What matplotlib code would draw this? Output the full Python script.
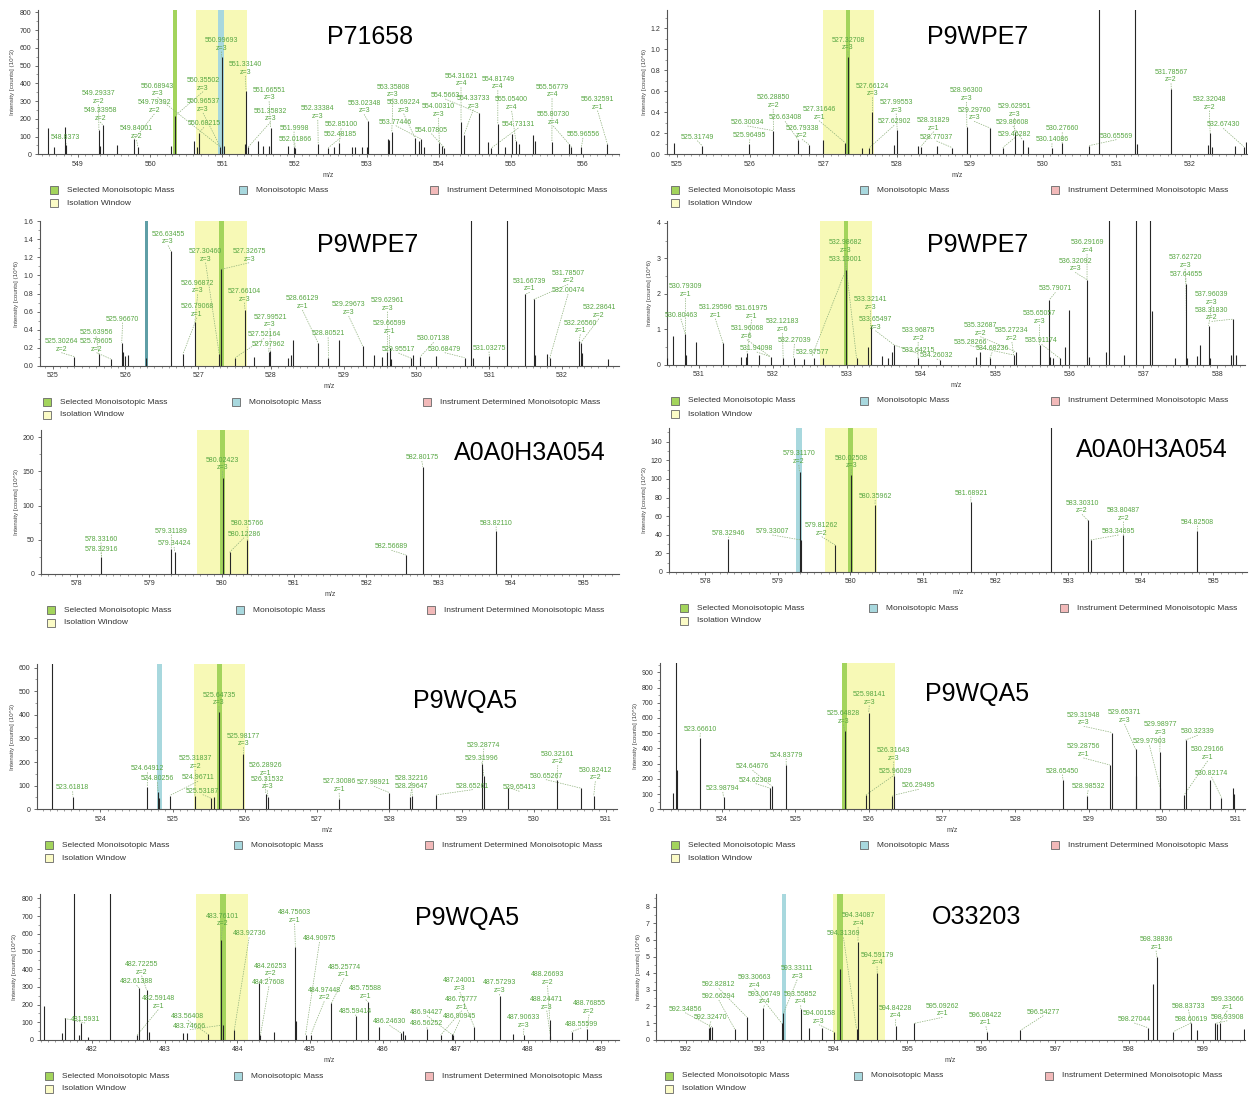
import matplotlib
matplotlib.use("Agg")
import matplotlib.pyplot as plt
from matplotlib.patches import Rectangle
from matplotlib.ticker import MultipleLocator, AutoMinorLocator, FormatStrFormatter

plt.rcParams['font.family'] = ['Liberation Sans', 'DejaVu Sans']

W, H = 1249, 1095

# ---------------- Panel 1 : P71658 ----------------
P1_title = "P71658"
P1_mz = [548.58, 548.67, 548.82, 548.84, 549.29, 549.31, 549.34, 549.54, 549.78, 549.83, 550.29, 550.35,
         550.61, 550.65, 550.68, 550.975, 550.99, 551.02, 551.31, 551.33, 551.36, 551.50, 551.57, 551.65,
         551.67, 551.91, 551.995, 552.01, 552.33, 552.47, 552.55, 552.62, 552.80, 552.84, 552.94, 553.00,
         553.02, 553.30, 553.31, 553.35, 553.67, 553.73, 553.76, 553.80, 554.01, 554.05, 554.08, 554.31,
         554.35, 554.56, 554.68, 554.73, 554.82, 554.92, 555.01, 555.07, 555.12, 555.31, 555.33, 555.57,
         555.80, 555.84, 555.98, 556.34]
P1_int = [148, 41, 152, 52, 137, 49, 167, 50, 85, 43, 47, 218,
          75, 41, 122, 41, 546, 49, 58, 359, 41, 73, 49, 49,
          150, 49, 43, 35, 60, 37, 43, 62, 43, 43, 43, 43,
          188, 86, 80, 124, 94, 75, 85, 41, 62, 49, 37, 184,
          109, 231, 71, 35, 171, 41, 115, 75, 56, 109, 75, 68,
          58, 43, 43, 58]
P1_lab_txt = ["548.8373", "549.29337\nz=2", "549.33958\nz=2", "549.84001\nz=2", "549.79392\nz=2",
              "550.68943\nz=3", "550.35502\nz=3", "550.96537\nz=3", "550.68215", "550.99693\nz=3",
              "551.33140\nz=3", "551.66551\nz=3", "551.35832\nz=3", "551.9998", "552.01866",
              "552.33384\nz=3", "552.85100", "552.48185", "553.02348\nz=3", "553.35808\nz=3",
              "553.69224\nz=3", "553.77446", "554.07805", "554.00310\nz=3", "554.5663",
              "554.33733\nz=3", "554.31621\nz=4", "554.81749\nz=4", "555.05400\nz=4", "554.73131",
              "555.56779\nz=4", "555.80730\nz=4", "555.96556", "556.32591\nz=1"]
P1_lab_xy = [(165, 422), (249, 314), (253, 366), (345, 420), (390, 342),
             (398, 292), (513, 275), (513, 339), (515, 382), (560, 155),
             (620, 228), (680, 304), (683, 367), (743, 395), (745, 429),
             (803, 360), (862, 385), (860, 414), (920, 343), (993, 295),
             (1020, 341), (1000, 377), (1090, 401), (1108, 354), (1125, 297),
             (1196, 329), (1165, 262), (1258, 271), (1293, 333), (1310, 384),
             (1395, 295), (1398, 378), (1473, 414), (1510, 332)]
P1_lab_peak = [548.84, 549.29, 549.34, 549.83, 549.78, 550.975, 550.35, 550.975, 550.68, 550.99,
               551.33, 551.67, 551.36, 551.995, 552.01, 552.33, 552.62, 552.47, 553.02, 553.35,
               553.67, 553.76, 554.08, 554.01, 554.56, 554.35, 554.31, 554.82, 555.07, 554.73,
               555.57, 555.84, 555.98, 556.34]
P1_sel, P1_mono, P1_iso = (550.317, 550.377), (550.947, 551.024), (550.635, 551.348)

# ---------------- Panel 2 : P9WPE7 ----------------
P2_title = "P9WPE7"
P2_mz = [524.97, 525.35, 525.99, 526.32, 526.66, 526.81, 526.99, 527.30, 527.34, 527.53, 527.63, 527.67,
         527.97, 528.01, 528.29, 528.33, 528.55, 528.76, 528.96, 529.28, 529.45, 529.61, 529.72, 529.79,
         530.12, 530.26, 530.63, 530.76, 531.25, 531.28, 531.75, 532.25, 532.28, 532.30, 532.62, 532.74,
         532.77]
P2_int = [0.105, 0.08, 0.10, 0.225, 0.137, 0.09, 0.137, 0.11, 0.93, 0.063, 0.063, 0.40,
          0.09, 0.23, 0.083, 0.073, 0.083, 0.063, 0.26, 0.25, 0.063, 0.216, 0.137, 0.073,
          0.063, 0.105, 0.083, 2.0, 2.2, 0.10, 0.62, 0.09, 0.2, 0.073, 0.08, 0.073,
          0.12]
P2_lab_txt = ["525.31749", "526.28850\nz=2", "526.30034", "525.96495", "526.63408", "526.79338\nz=2",
              "527.31646\nz=1", "527.32708\nz=3", "527.66124\nz=3", "527.99553\nz=3", "527.62902",
              "528.31829\nz=1", "528.77037", "528.96300\nz=3", "529.29760\nz=3", "529.62951\nz=3",
              "529.80608", "529.46282", "530.27660", "530.14086", "530.65569", "531.78567\nz=2",
              "532.32048\nz=2", "532.67430"]
P2_lab_xy = [(170, 422), (362, 327), (297, 378), (303, 418), (392, 364), (435, 418),
             (478, 362), (551, 154), (613, 292), (673, 341), (668, 376),
             (768, 395), (775, 423), (851, 306), (870, 364), (972, 354),
             (968, 378), (973, 413), (1093, 397), (1067, 430), (1230, 419), (1368, 250),
             (1465, 332), (1500, 385)]
P2_lab_peak = [525.35, 526.32, 526.32, 525.99, 526.66, 526.81, 527.30, 527.34, 527.67, 528.01, 527.63,
               528.33, 528.76, 528.96, 529.28, 529.61, 529.72, 529.45, 530.26, 530.12, 530.63, 531.75,
               532.28, 532.74]
P2_sel, P2_mono, P2_iso = (527.304, 527.369), None, (526.99, 527.69)

# ---------------- Panel 3 : P9WPE7 ----------------
P3_title = "P9WPE7"
P3_mz = [525.30, 525.636, 525.80, 525.95, 525.97, 526.00, 526.03, 526.29, 526.624, 526.79, 526.955, 527.29,
         527.314, 527.51, 527.645, 527.77, 527.97, 527.99, 528.24, 528.27, 528.31, 528.65, 528.79, 528.94,
         529.26, 529.41, 529.53, 529.60, 529.63, 529.655, 529.93, 529.95, 530.05, 530.27, 530.66, 530.752,
         530.77, 531.00, 531.247, 531.49, 531.61, 531.625, 531.79, 531.83, 532.235, 532.257, 532.268, 532.626]
P3_int = [0.103, 0.129, 0.077, 0.257, 0.158, 0.11, 0.12, 0.09, 1.27, 0.129, 0.49, 0.129,
          1.066, 0.092, 0.617, 0.103, 0.158, 0.165, 0.092, 0.12, 0.287, 0.25, 0.092, 0.287,
          0.22, 0.12, 0.103, 0.158, 0.20, 0.077, 0.085, 0.12, 0.103, 0.11, 0.092, 3.0,
          0.09, 0.11, 3.0, 0.79, 0.735, 0.12, 0.129, 0.085, 0.28, 0.257, 0.14, 0.077]
P3_lab_txt = ["526.63455\nz=3", "527.30460\nz=3", "527.32675\nz=3", "526.96872\nz=3", "526.79068\nz=1",
              "527.66104\nz=3", "527.99521\nz=3", "527.52164", "527.97962", "528.66129\nz=1",
              "528.80521", "529.29673\nz=3", "529.62961\nz=3", "529.66599\nz=1", "529.95517",
              "530.07138", "530.68479", "531.03275", "525.30264\nz=2", "525.63956",
              "525.79605\nz=2", "525.96670", "531.66739\nz=1", "531.78507\nz=2", "532.00474",
              "532.28641\nz=2", "532.26560\nz=1"]
P3_lab_xy = [(425, 91), (520, 143), (630, 143), (500, 238), (498, 308),
             (618, 263), (683, 340), (668, 370), (680, 399), (765, 285),
             (830, 367), (882, 303), (980, 290), (985, 360), (1008, 414),
             (1097, 382), (1125, 413), (1237, 410), (155, 413), (243, 364),
             (244, 413), (310, 323), (1340, 232), (1437, 208), (1437, 237),
             (1515, 311), (1468, 358)]
P3_lab_peak = [526.624, 527.29, 527.314, 526.955, 526.79, 527.645, 527.99, 527.51, 527.97, 528.65,
               528.79, 529.26, 529.60, 529.63, 529.93, 530.05, 530.66, 531.00, 525.30, 525.636,
               525.80, 525.95, 531.49, 531.61, 531.83, 532.257, 532.235]
P3_sel, P3_mono, P3_iso = (527.281, 527.357), (526.266, 526.314), (526.955, 527.672)

# ---------------- Panel 4 : P9WPE7 ----------------
P4_title = "P9WPE7"
P4_mz = [530.57, 530.65, 530.82, 530.83, 530.97, 531.33, 531.57, 531.635, 531.65, 531.81, 531.97, 532.14,
         532.28, 532.42, 532.55, 532.68, 532.985, 533.13, 533.28, 533.32, 533.47, 533.55, 533.61, 533.64,
         533.96, 534.25, 534.74, 534.80, 534.93, 535.25, 535.28, 535.60, 535.73, 535.745, 535.78, 535.87,
         535.94, 535.99, 536.24, 536.265, 536.50, 536.53, 536.74, 536.90, 537.09, 537.11, 537.43, 537.57,
         537.585, 537.73, 537.77, 537.88, 537.895, 538.18, 538.21, 538.25]
P4_int = [0.19, 0.82, 0.86, 0.28, 0.64, 0.61, 0.23, 0.23, 0.33, 0.28, 0.23, 0.19,
          0.19, 0.17, 0.19, 0.19, 2.67, 0.19, 0.50, 1.1, 0.25, 0.19, 0.36, 0.56,
          0.19, 0.14, 0.23, 0.37, 0.19, 0.28, 0.37, 0.56, 1.83, 0.23, 0.19, 0.19,
          0.50, 1.55, 2.4, 0.23, 0.37, 5.0, 0.28, 5.0, 5.0, 1.53, 0.19, 2.29,
          0.19, 0.25, 0.56, 1.1, 0.19, 0.28, 1.29, 0.28]
P4_lab_txt = ["532.98682\nz=3", "533.13001", "530.79309\nz=1", "530.80463", "531.29596\nz=1",
              "531.61975\nz=1", "531.96068\nz=6", "531.94098", "532.12183\nz=6", "532.27039",
              "532.97577", "533.32141\nz=3", "533.65497\nz=3", "533.96875\nz=2", "533.64215",
              "534.26032", "535.32687\nz=2", "535.28266", "534.68236", "535.27234\nz=2",
              "535.91174", "535.65057\nz=3", "535.79071", "536.29169\nz=4", "536.32092\nz=3",
              "537.62720\nz=3", "537.64655", "537.96039\nz=3", "538.31830\nz=2"]
P4_lab_xy = [(545, 116), (545, 144), (140, 249), (128, 311), (215, 311),
             (307, 314), (295, 374), (320, 411), (385, 354), (415, 387),
             (460, 422), (607, 287), (620, 347), (728, 381), (728, 416),
             (775, 432), (885, 365), (860, 392), (915, 412), (965, 381),
             (1040, 388), (1035, 329), (1075, 232), (1155, 117), (1125, 172),
             (1403, 161), (1405, 189), (1470, 272), (1470, 319)]
P4_lab_peak = [532.985, 533.13, 530.82, 530.82, 531.33, 531.65, 531.97, 531.97, 532.14, 532.28,
               532.985, 533.32, 533.64, 533.96, 533.64, 534.25, 535.28, 535.25, 534.93, 535.25,
               535.87, 535.60, 535.73, 536.24, 536.24, 537.57, 537.585, 537.88, 538.21]
P4_sel, P4_mono, P4_iso = (532.96, 533.01), None, (532.638, 533.343)

# ---------------- Panel 5 : A0A0H3A054 ----------------
P5_title = "A0A0H3A054"
P5_mz = [578.34, 579.305, 579.35, 580.015, 580.11, 580.355, 582.55, 582.78, 583.795]
P5_int = [25, 36.6, 32.7, 141, 31.7, 49.8, 27.8, 157, 63]
P5_lab_txt = ["578.33160", "578.32916", "579.31189", "579.34424", "580.02423\nz=3",
              "580.35766", "580.12286", "582.56689", "582.80175", "583.82110"]
P5_lab_xy = [(255, 353), (255, 383), (433, 329), (440, 366), (563, 139),
             (625, 305), (617, 338), (990, 376), (1067, 108), (1255, 305)]
P5_lab_peak = [578.34, 578.34, 579.305, 579.35, 580.015, 580.355, 580.11, 582.55, 582.78, 583.795]
P5_sel, P5_mono, P5_iso = (579.98, 580.05), None, (579.66, 580.38)

# ---------------- Panel 6 : A0A0H3A054 ----------------
P6_title = "A0A0H3A054"
P6_mz = [578.32, 579.30, 579.32, 579.79, 580.01, 580.34, 581.66, 582.77, 583.27, 583.31, 583.76, 584.78]
P6_int = [35, 107, 34.4, 29, 104, 72, 75, 300, 55.5, 34.4, 40, 44]
P6_lab_txt = ["578.32946", "579.31170\nz=2", "579.33007", "580.02508\nz=3", "579.81262\nz=2",
              "580.35962", "581.68921", "583.30310\nz=2", "583.80487\nz=2", "583.34695", "584.82508"]
P6_lab_xy = [(250, 335), (427, 120), (360, 330), (560, 133), (485, 335),
             (620, 225), (862, 215), (1143, 268), (1248, 290), (1235, 330), (1435, 302)]
P6_lab_peak = [578.32, 579.30, 579.32, 580.01, 579.79, 580.34, 581.66, 583.27, 583.76, 583.31, 584.78]
P6_sel, P6_mono, P6_iso = (579.97, 580.04), (579.25, 579.33), (579.65, 580.37)

# ---------------- Panel 7 : P9WQA5 ----------------
P7_title = "P9WQA5"
P7_mz = [523.33, 523.62, 524.65, 524.80, 524.815, 524.96, 525.31, 525.53, 525.57, 525.64, 525.98, 526.29,
         526.32, 527.31, 528.0, 528.29, 528.32, 528.65, 529.29, 529.31, 529.65, 530.32, 530.66, 530.83]
P7_int = [700, 54, 96, 75, 47, 58, 58, 47, 51, 414, 234, 65,
          54, 44, 71, 51, 55, 61, 192, 141, 92, 123, 89, 56]
P7_lab_txt = ["523.61818", "524.64912", "524.80256", "525.31837\nz=2", "524.96711", "525.53187",
              "525.64735\nz=3", "525.98177\nz=3", "526.28926\nz=1", "526.31532\nz=3", "527.30086\nz=1",
              "527.98921", "528.32216", "528.29647", "528.65261", "529.28774", "529.31996",
              "529.65413", "530.32161\nz=2", "530.65267", "530.82412\nz=2"]
P7_lab_xy = [(183, 409), (372, 352), (397, 382), (493, 345), (500, 379), (512, 419),
             (553, 154), (615, 277), (670, 366), (675, 406), (857, 414),
             (945, 394), (1040, 381), (1040, 404), (1195, 404), (1223, 281), (1218, 322),
             (1313, 409), (1410, 331), (1380, 374), (1505, 379)]
P7_lab_peak = [523.62, 524.65, 524.80, 525.31, 524.96, 525.53, 525.64, 525.98, 526.29, 526.32, 527.31,
               528.0, 528.32, 528.29, 528.65, 529.29, 529.31, 529.65, 530.32, 530.66, 530.83]
P7_sel, P7_mono, P7_iso = (525.61, 525.68), (524.79, 524.86), (525.29, 526.0)

# ---------------- Panel 8 : P9WQA5 ----------------
P8_title = "P9WQA5"
P8_mz = [523.33, 523.37, 523.38, 523.70, 524.02, 524.66, 524.675, 524.875, 525.67, 525.96, 526.0, 526.32,
         526.34, 528.65, 528.98, 529.29, 529.32, 529.64, 529.65, 529.97, 529.975, 530.30, 530.32, 530.65,
         530.81, 530.97, 530.98]
P8_int = [105, 970, 260, 471, 79, 138, 153, 291, 515, 94, 635, 90,
          219, 193, 90, 291, 504, 394, 219, 379, 138, 94, 455, 193,
          77, 138, 99]
P8_lab_txt = ["523.66610", "523.98794", "524.64676", "524.62368", "524.83779", "525.64828\nz=3",
              "525.98141\nz=3", "526.31643\nz=3", "525.96029", "526.29495", "528.65450", "528.98532",
              "529.31948\nz=3", "529.28756\nz=1", "529.65371\nz=3", "529.98977\nz=3", "529.97903",
              "530.32339", "530.29166\nz=1", "530.82174"]
P8_lab_xy = [(178, 234), (235, 411), (310, 346), (318, 386), (395, 311), (540, 209),
             (605, 152), (667, 320), (670, 359), (730, 403), (1093, 359), (1158, 406),
             (1147, 214), (1146, 309), (1250, 207), (1340, 243), (1313, 271),
             (1435, 241), (1460, 318), (1470, 366)]
P8_lab_peak = [523.70, 524.02, 524.675, 524.66, 524.875, 525.67, 526.0, 526.34, 525.96, 526.32,
               528.65, 528.98, 529.32, 529.29, 529.64, 529.97, 529.975, 530.32, 530.30, 530.81]
P8_sel, P8_mono, P8_iso = (525.64, 525.71), None, (525.64, 526.36)

# ---------------- Panel 9 : P9WQA5 ----------------
P9_title = "P9WQA5"
P9_mz = [481.34, 481.59, 481.625, 481.76, 481.82, 481.85, 481.95, 482.25, 482.625, 482.65, 482.755, 482.79,
         483.25, 483.315, 483.60, 483.78, 483.81, 483.96, 484.32, 484.305, 484.50, 484.80, 484.81, 484.94,
         485.01, 485.295, 485.63, 485.80, 485.95, 486.26, 486.285, 486.31, 486.61, 486.80, 486.95, 486.97,
         487.26, 487.61, 487.79, 487.94, 488.30, 488.31, 488.60, 488.81]
P9_int = [194, 38, 122, 900, 28, 94, 19, 900, 28, 295, 282, 47,
          41, 38, 32, 565, 85, 56, 28, 324, 47, 527, 107, 28,
          28, 207, 136, 216, 72, 38, 53, 28, 62, 28, 32, 28,
          75, 248, 32, 28, 113, 23, 47, 60]
P9_lab_txt = ["481.5931", "482.72255\nz=2", "482.61388", "482.59148\nz=1", "483.56408", "483.74666",
              "483.76101\nz=2", "483.92736", "484.26253\nz=2", "484.27608", "484.75603\nz=1", "484.90975",
              "485.25774\nz=1", "484.97448\nz=2", "485.75588\nz=1", "485.59414", "486.24630", "486.94427",
              "486.56252", "487.24001\nz=3", "486.75777\nz=1", "486.90945", "487.57293\nz=3",
              "487.90633\nz=3", "488.26693\nz=2", "488.24471\nz=3", "488.55599", "488.76855\nz=2"]
P9_lab_xy = [(215, 414), (358, 272), (345, 301), (400, 374), (475, 406), (480, 434),
             (562, 127), (630, 157), (683, 277), (680, 304), (745, 116), (808, 171),
             (870, 280), (820, 349), (925, 344), (900, 389), (985, 421), (1080, 392),
             (1080, 427), (1163, 321), (1168, 377), (1163, 406), (1263, 327),
             (1325, 431), (1385, 302), (1383, 377), (1470, 429), (1490, 389)]
P9_lab_peak = [481.625, 482.755, 482.65, 482.625, 483.60, 483.81, 483.78, 483.96, 484.305, 484.32,
               484.80, 484.94, 485.295, 485.01, 485.80, 485.63, 486.26, 486.95, 486.61, 487.26,
               486.80, 486.97, 487.61, 487.94, 488.30, 488.31, 488.60, 488.81]
P9_sel, P9_mono, P9_iso = (483.76, 483.84), None, (483.44, 484.15)

# ---------------- Panel 10 : O33203 ----------------
P10_title = "O33203"
P10_mz = [592.31, 592.33, 592.35, 592.66, 592.82, 593.05, 593.30, 593.32, 593.555, 593.66, 593.84, 594.0,
          594.08, 594.31, 594.33, 594.59, 594.84, 595.09, 596.08, 596.53, 598.26, 598.32, 598.38, 598.60,
          598.84, 598.92, 599.17, 599.19, 599.23, 599.56]
P10_int = [0.68, 0.74, 0.78, 0.64, 1.38, 1.9, 0.98, 1.58, 1.85, 0.68, 0.68, 0.48,
           4.23, 0.64, 5.9, 4.03, 0.84, 0.98, 0.48, 0.56, 0.72, 3.37, 4.95, 0.48,
           0.98, 0.56, 0.98, 0.92, 1.02, 0.62]
P10_lab_txt = ["592.34856", "592.32470", "592.66294", "592.82812", "593.30663\nz=4", "593.06749\nz=4",
               "593.33111\nz=3", "593.55852\nz=4", "594.00158\nz=3", "594.34087\nz=4", "594.31369",
               "594.59179\nz=4", "594.84228\nz=4", "595.09262\nz=1", "596.08422\nz=1", "596.54277",
               "598.38836\nz=1", "598.27044", "598.83733", "598.60619", "599.33666\nz=1", "598.93908"]
P10_lab_xy = [(140, 383), (205, 409), (225, 345), (225, 310), (315, 311), (340, 361),
              (423, 284), (432, 361), (478, 419), (577, 126), (540, 157),
              (625, 244), (672, 403), (790, 397), (900, 424), (1045, 392),
              (1330, 197), (1275, 414), (1412, 374), (1418, 414), (1510, 377), (1510, 407)]
P10_lab_peak = [592.35, 592.31, 592.66, 592.82, 593.30, 593.05, 593.32, 593.555, 594.0, 594.33, 594.31,
                594.59, 594.84, 595.09, 596.08, 596.53, 598.38, 598.26, 598.84, 598.60, 599.23, 599.17]
P10_sel, P10_mono, P10_iso = (594.05, 594.13), (593.30, 593.36), (593.99, 594.70)

# ---------------- layout (pixel boxes, axis ranges, label calibration) ----------------
panels = [
    dict(title=P1_title, mz=P1_mz, it=P1_int, lt=P1_lab_txt, lxy=P1_lab_xy, lk=P1_lab_peak,
         sel=P1_sel, mono=P1_mono, iso=P1_iso, box=(37.6, 10, 619, 154.3), xlim=(548.44, 556.50),
         ylim=(0, 813), ystep=100, yfmt='%d', exp='3', tpos=(370, 37), legx=54,
         cal=(549, 197, 182.3, 463, 1.878), monoc='#a8d8de'),
    dict(title=P2_title, mz=P2_mz, it=P2_int, lt=P2_lab_txt, lxy=P2_lab_xy, lk=P2_lab_peak,
         sel=P2_sel, mono=P2_mono, iso=P2_iso, box=(666.8, 10, 1246.8, 154.3), xlim=(524.865, 532.78),
         ylim=(0, 1.375), ystep=0.2, yfmt='%.1f', exp='6', tpos=(978, 37), legx=675,
         cal=(525, 118, 185.3, 463, 0.003175), monoc='#a8d8de'),
    dict(title=P3_title, mz=P3_mz, it=P3_int, lt=P3_lab_txt, lxy=P3_lab_xy, lk=P3_lab_peak,
         sel=P3_sel, mono=P3_mono, iso=P3_iso, box=(39.5, 221, 618.8, 366), xlim=(524.82, 532.78),
         ylim=(0, 1.6), ystep=0.2, yfmt='%.1f', exp='6', tpos=(368, 245), legx=47,
         cal=(525, 133, 184.1, 453, 0.003675), monoc='#5f9ea6'),
    dict(title=P4_title, mz=P4_mz, it=P4_int, lt=P4_lab_txt, lxy=P4_lab_xy, lk=P4_lab_peak,
         sel=P4_sel, mono=P4_mono, iso=P4_iso, box=(666.8, 221, 1244.9, 365), xlim=(530.57, 538.37),
         ylim=(0, 4.05), ystep=1, yfmt='%d', exp='6', tpos=(978, 245), legx=675,
         cal=(531, 173, 187.4, 450, 0.009368), monoc='#a8d8de'),
    dict(title=P5_title, mz=P5_mz, it=P5_int, lt=P5_lab_txt, lxy=P5_lab_xy, lk=P5_lab_peak,
         sel=P5_sel, mono=P5_mono, iso=P5_iso, box=(40.7, 430, 618.8, 574), xlim=(577.50, 585.49),
         ylim=(0, 210.7), ystep=50, yfmt='%d', exp='3', tpos=(530, 453), legx=51,
         cal=(578, 194, 183.1, 447, 0.4878), monoc='#a8d8de'),
    dict(title=P6_title, mz=P6_mz, it=P6_int, lt=P6_lab_txt, lxy=P6_lab_xy, lk=P6_lab_peak,
         sel=P6_sel, mono=P6_mono, iso=P6_iso, box=(668.8, 427.7, 1246.8, 572), xlim=(577.50, 585.46),
         ylim=(0, 155), ystep=20, yfmt='%d', exp='3', tpos=(1152, 450), legx=684,
         cal=(578, 190, 183.6, 441, 0.358), monoc='#a8d8de'),
    dict(title=P7_title, mz=P7_mz, it=P7_int, lt=P7_lab_txt, lxy=P7_lab_xy, lk=P7_lab_peak,
         sel=P7_sel, mono=P7_mono, iso=P7_iso, box=(36.8, 664.3, 616.8, 809.3), xlim=(523.12, 531.15),
         ylim=(0, 614), ystep=100, yfmt='%d', exp='3', tpos=(465, 701), legx=49,
         cal=(524, 253, 182.7, 463, 1.4118), monoc='#a8d8de'),
    dict(title=P8_title, mz=P8_mz, it=P8_int, lt=P8_lab_txt, lxy=P8_lab_xy, lk=P8_lab_peak,
         sel=P8_sel, mono=P8_mono, iso=P8_iso, box=(659.7, 663.3, 1244.9, 809.3), xlim=(523.15, 531.13),
         ylim=(0, 959), ystep=100, yfmt='%d', exp='3', tpos=(977, 694), legx=675,
         cal=(524, 233, 185.3, 463, 2.19), monoc='#a8d8de'),
    dict(title=P9_title, mz=P9_mz, it=P9_int, lt=P9_lab_txt, lxy=P9_lab_xy, lk=P9_lab_peak,
         sel=P9_sel, mono=P9_mono, iso=P9_iso, box=(39.5, 894.3, 618.8, 1040), xlim=(481.28, 489.25),
         ylim=(0, 822.6), ystep=100, yfmt='%d', exp='3', tpos=(467, 918), legx=49,
         cal=(482, 232, 183.9, 465, 1.882), monoc='#a8d8de'),
    dict(title=P10_title, mz=P10_mz, it=P10_int, lt=P10_lab_txt, lxy=P10_lab_xy, lk=P10_lab_peak,
         sel=P10_sel, mono=P10_mono, iso=P10_iso, box=(655.7, 894.3, 1244.9, 1039.7), xlim=(591.59, 599.57),
         ylim=(0, 8.75), ystep=1, yfmt='%d', exp='6', tpos=(977, 917), legx=669,
         cal=(592, 142, 186.6, 464, 0.02005), monoc='#a8d8de'),
]

GREEN_BAND = '#a3d45c'
YELLOW_BAND = '#f7f9b6'
TXT_GREEN = '#56a641'
LEADER = '#8db07a'
PEAK = '#262626'

fig = plt.figure(figsize=(W / 100, H / 100), dpi=100)
fig.patch.set_facecolor('white')


def fx(x):
    return x / W


def fy(y):
    return 1 - y / H


for p in panels:
    assert len(p['mz']) == len(p['it'])
    assert len(p['lt']) == len(p['lxy']) == len(p['lk'])
    l, t, r, b = p['box']
    ax = fig.add_axes([l / W, 1 - b / H, (r - l) / W, (b - t) / H])
    ax.set_xlim(*p['xlim'])
    ax.set_ylim(*p['ylim'])
    ax.patch.set_alpha(0)

    if p['iso']:
        ax.axvspan(*p['iso'], color=YELLOW_BAND, lw=0, zorder=0)
    if p['mono']:
        ax.axvspan(*p['mono'], color=p['monoc'], lw=0, zorder=1)
    if p['sel']:
        ax.axvspan(*p['sel'], color=GREEN_BAND, lw=0, zorder=1)

    ax.vlines(p['mz'], 0, p['it'], colors=PEAK, lw=0.8, zorder=3)

    m0, x0, ppu, y0, k = p['cal']
    ytop = p['ylim'][1]
    for txt, (px, py), tgt in zip(p['lt'], p['lxy'], p['lk']):
        lx = m0 + (px - x0) / ppu
        ly = (y0 - py) * k
        j = min(range(len(p['mz'])), key=lambda i: abs(p['mz'][i] - tgt))
        pm, pv = p['mz'][j], min(p['it'][j], ytop)
        ax.plot([lx, pm], [ly, pv], ls=(0, (2, 1.5)), lw=0.5, color=LEADER, zorder=2)
        ax.text(lx, ly, txt, ha='center', va='bottom', fontsize=5, color=TXT_GREEN,
                linespacing=1.15, zorder=4)

    for s in ['top', 'right']:
        ax.spines[s].set_visible(False)
    for s in ['left', 'bottom']:
        ax.spines[s].set_color('#555555')
        ax.spines[s].set_linewidth(0.8)
    ax.xaxis.set_major_locator(MultipleLocator(1))
    ax.xaxis.set_minor_locator(MultipleLocator(0.1))
    ax.yaxis.set_major_locator(MultipleLocator(p['ystep']))
    ax.yaxis.set_minor_locator(AutoMinorLocator(2))
    ax.yaxis.set_major_formatter(FormatStrFormatter(p['yfmt']))
    ax.tick_params(which='major', labelsize=5, length=2.5, width=0.6, colors='#555555',
                   labelcolor='#333333', pad=2)
    ax.tick_params(which='minor', length=1.3, width=0.4, colors='#555555')
    ax.set_xlabel('m/z', fontsize=5, color='#444444', labelpad=3)
    ax.set_ylabel('Intensity [counts] (10^%s)' % p['exp'], fontsize=4.5, color='#444444', labelpad=3)

    # protein accession
    fig.text(fx(p['tpos'][0]), fy(p['tpos'][1]), p['title'], ha='center', va='center',
             fontsize=18, color='black')

    # legend
    items = [(0, 36, GREEN_BAND, 'Selected Monoisotopic Mass'),
             (189, 36, '#a8d8de', 'Monoisotopic Mass'),
             (380, 36, '#f2b9b9', 'Instrument Determined Monoisotopic Mass'),
             (0, 49, '#fbfbc6', 'Isolation Window')]
    for dx, dy, col, lab in items:
        cx, cy = p['legx'] + dx, b + dy
        fig.add_artist(Rectangle((fx(cx - 4), fy(cy + 4)), 8 / W, 8 / H, transform=fig.transFigure,
                                 facecolor=col, edgecolor='#666666', lw=0.6))
        fig.text(fx(cx + 13), fy(cy), lab, ha='left', va='center', fontsize=6, color='#333333')

fig.savefig('out.png', dpi=100, facecolor='white')
